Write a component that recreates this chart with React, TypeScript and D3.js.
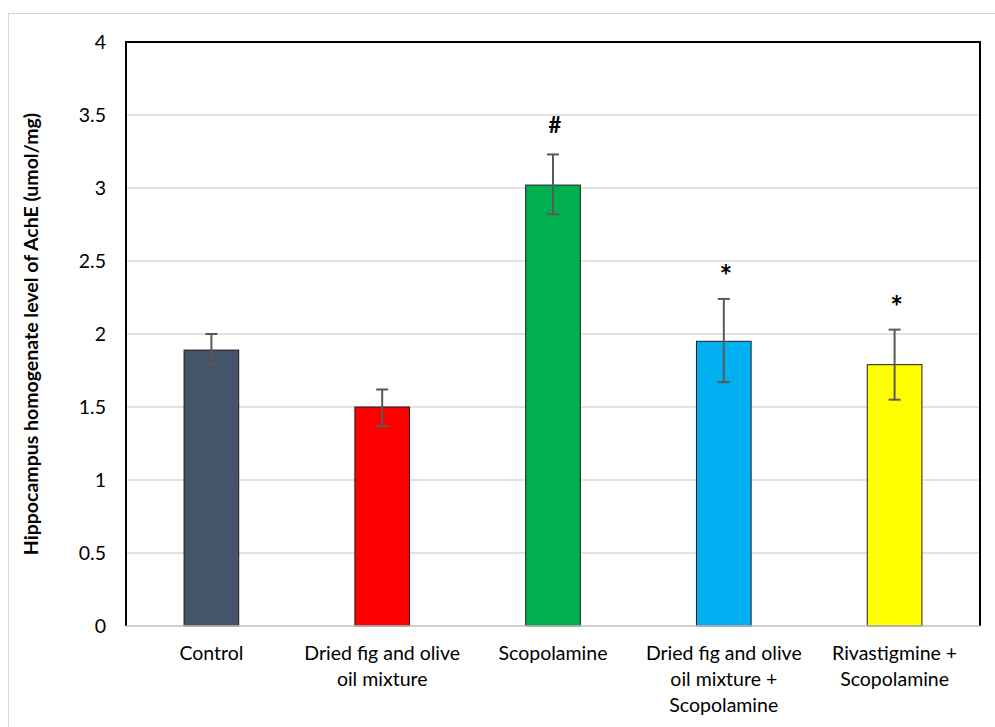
import React, { useEffect, useRef } from "react";
import * as d3 from "d3";

const groups = [
  ["Control"],
  ["Dried fig and olive", "oil mixture"],
  ["Scopolamine"],
  ["Dried fig and olive", "oil mixture +", "Scopolamine"],
  ["Rivastigmine +", "Scopolamine"],
];
const means = [1.89, 1.5, 3.02, 1.95, 1.79];
const errLow = [1.79, 1.37, 2.82, 1.67, 1.55];
const errHigh = [2.0, 1.62, 3.23, 2.24, 2.03];
const marks = ["", "", "#", "*", "*"];
const colors = ["#44546a", "#ff0000", "#00b050", "#00b0f0", "#ffff00"];
const yTicks = [0, 0.5, 1, 1.5, 2, 2.5, 3, 3.5, 4];

const App = () => {
  const ref = useRef<SVGSVGElement>(null);

  useEffect(() => {
    const svg = d3.select(ref.current);
    svg.selectAll("*").remove();

    const left = 126, right = 980, top = 42, bottom = 626;
    const font = "Lato, 'Open Sans', sans-serif";

    // outer chart border
    svg.append("rect")
      .attr("x", 8.5).attr("y", 13.5)
      .attr("width", 1000).attr("height", 800)
      .attr("fill", "#fff").attr("stroke", "#d9d9d9");

    const x = d3.scaleBand<number>()
      .domain(d3.range(groups.length))
      .range([left, right])
      .paddingInner(0.68).paddingOuter(0.34);
    const y = d3.scaleLinear().domain([0, 4]).range([bottom, top]);

    const g = svg.append("g");

    // gridlines
    g.selectAll("line.grid")
      .data(yTicks.filter((t) => t > 0 && t < 4))
      .enter().append("line")
      .attr("x1", left).attr("x2", right)
      .attr("y1", (d) => y(d)).attr("y2", (d) => y(d))
      .attr("stroke", "#d9d9d9").attr("stroke-width", 1.5);

    // tick labels
    g.selectAll("text.tick")
      .data(yTicks)
      .enter().append("text")
      .attr("x", 106).attr("y", (d) => y(d) + 7)
      .attr("text-anchor", "end")
      .style("font-family", font).style("font-size", "19.5px")
      .attr("fill", "#000")
      .text((d) => String(d));

    // bars
    g.selectAll("rect.bar")
      .data(means)
      .enter().append("rect")
      .attr("x", (_, i) => x(i)!)
      .attr("y", (d) => y(d))
      .attr("width", x.bandwidth())
      .attr("height", (d) => bottom - y(d))
      .attr("fill", (_, i) => colors[i])
      .attr("stroke", "#1f1f1f").attr("stroke-width", 1);

    // error bars
    const cx = (i: number) => x(i)! + x.bandwidth() / 2;
    const eb = g.selectAll("g.err").data(means).enter().append("g")
      .attr("stroke", "#595959").attr("stroke-width", 2);
    eb.append("line")
      .attr("x1", (_, i) => cx(i)).attr("x2", (_, i) => cx(i))
      .attr("y1", (_, i) => y(errLow[i])).attr("y2", (_, i) => y(errHigh[i]));
    eb.append("line")
      .attr("x1", (_, i) => cx(i) - 6).attr("x2", (_, i) => cx(i) + 6)
      .attr("y1", (_, i) => y(errLow[i])).attr("y2", (_, i) => y(errLow[i]));
    eb.append("line")
      .attr("x1", (_, i) => cx(i) - 6).attr("x2", (_, i) => cx(i) + 6)
      .attr("y1", (_, i) => y(errHigh[i])).attr("y2", (_, i) => y(errHigh[i]));

    // significance marks
    g.selectAll("text.mark")
      .data(marks)
      .enter().append("text")
      .attr("x", (_, i) => cx(i) + 2)
      .attr("y", (_, i) => y(errHigh[i]) - (marks[i] === "#" ? 21 : 12))
      .attr("text-anchor", "middle")
      .style("font-family", font)
      .style("font-size", (d) => (d === "#" ? "22px" : "30px"))
      .style("font-weight", "bold")
      .text((d) => d);

    // frame
    svg.append("path")
      .attr("d", `M${left},${bottom}V${top}H${right}V${bottom}`)
      .attr("fill", "none").attr("stroke", "#000").attr("stroke-width", 2);
    svg.append("line")
      .attr("x1", left).attr("x2", right).attr("y1", bottom).attr("y2", bottom)
      .attr("stroke", "#bfbfbf").attr("stroke-width", 1.5);

    // category labels
    const cat = g.selectAll("text.cat").data(groups).enter().append("text")
      .attr("text-anchor", "middle")
      .style("font-family", font).style("font-size", "19.5px")
      .attr("fill", "#000");
    cat.each(function (lines, i) {
      d3.select(this).selectAll("tspan").data(lines).enter().append("tspan")
        .attr("x", cx(i))
        .attr("y", (_, j) => 660 + j * 26)
        .text((d) => d);
    });

    // y title
    svg.append("text")
      .attr("transform", `translate(38,${(top + bottom) / 2}) rotate(-90)`)
      .attr("text-anchor", "middle")
      .style("font-family", font).style("font-size", "19.5px").style("font-weight", "bold")
      .text("Hippocampus homogenate level of AchE (umol/mg)");
  }, []);

  return (
    <div>
      <svg
        ref={ref}
        width={995}
        height={727}
        style={{ display: "block", position: "absolute", left: 0, top: 0 }}
      ></svg>
    </div>
  );
};

export default App;
